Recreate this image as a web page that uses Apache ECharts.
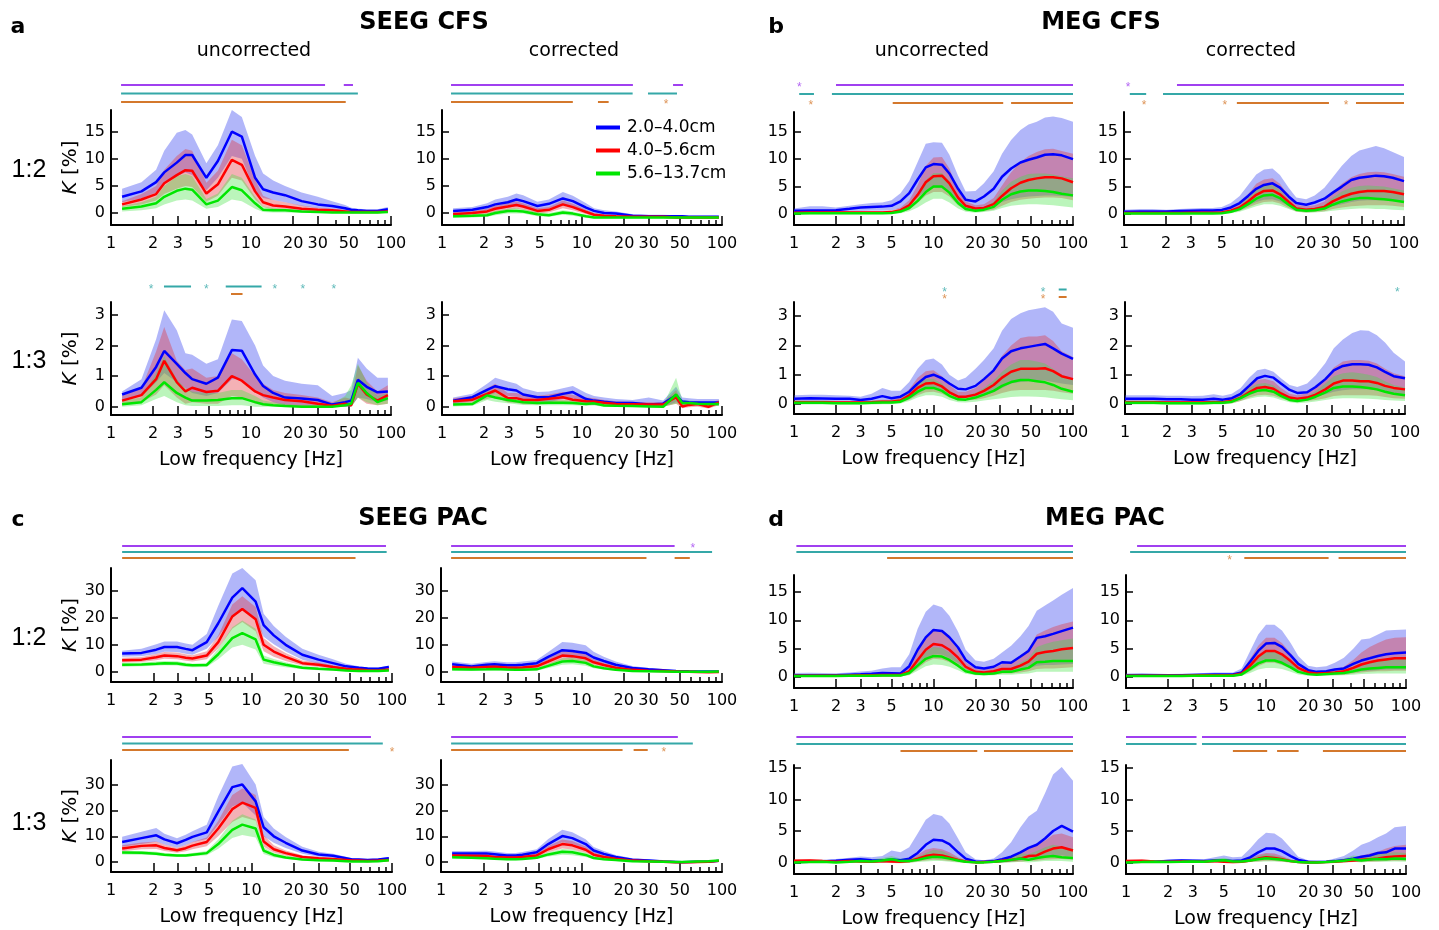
<!DOCTYPE html>
<html lang="en">
<head>
<meta charset="UTF-8" />
<title>SEEG / MEG CFS and PAC</title>
<style>
  html, body { margin: 0; padding: 0; background: #fff; }
  #chart { width: 1439px; height: 930px; }
</style>
</head>
<body>
<div id="chart"></div>
<script src="https://cdn.jsdelivr.net/npm/echarts@6/dist/echarts.min.js"></script>
<script>
// low frequencies (Hz) sampled in each modality
var freqSEEG = [1.2, 1.65, 2.1, 2.4, 2.95, 3.4, 3.8, 4.8, 5.8, 7.3, 8.6, 10.7, 12.2, 14.4, 17.5, 23, 30, 38, 47, 52, 58, 67, 80, 95];
var freqMEG = [1.0, 1.3, 1.6, 2.0, 2.5, 3.0, 3.6, 4.3, 5.0, 5.8, 6.7, 7.7, 8.8, 10, 11.5, 13, 15, 17, 20, 23, 27, 31, 36, 42, 48, 55, 63, 72, 83, 100];

var groupNames = ['2.0\u20134.0cm', '4.0\u20135.6cm', '5.6\u201313.7cm'];
var xLabelFreqs = [1, 2, 3, 5, 10, 20, 30, 50, 100];
var xMajorTicks = [2, 3, 5, 10, 20, 30, 50, 100];
var xMinorTicks = [4, 6, 7, 8, 9, 40, 60, 70, 80, 90];
var yTicks15 = [0, 5, 10, 15];
var yTicks3 = [0, 1, 2, 3];
var yTicks30 = [0, 10, 20, 30];

// ---- a: SEEG CFS 1:2, uncorrected
var a12u_near   = [3.0, 4.0, 5.7, 7.5, 9.3, 10.7, 10.7, 6.5, 9.6, 15.0, 14.1, 6.5, 4.4, 3.8, 3.3, 2.2, 1.6, 1.3, 0.9, 0.6, 0.5, 0.4, 0.4, 0.7];
var a12u_nearHi = [4.5, 5.7, 8.0, 11.5, 14.8, 15.3, 14.5, 9.2, 12.5, 19.0, 17.7, 10.5, 7.3, 6.0, 5.0, 3.8, 3.0, 2.2, 1.5, 1.0, 0.8, 0.7, 0.7, 1.1];
var a12u_nearLo = [2.0, 2.7, 3.8, 5.5, 6.8, 7.5, 7.0, 4.2, 6.5, 10.5, 10.0, 4.0, 2.8, 2.4, 2.0, 1.3, 0.9, 0.7, 0.4, 0.3, 0.2, 0.2, 0.2, 0.4];
var a12u_mid    = [1.6, 2.5, 3.5, 5.5, 7.0, 7.9, 7.8, 3.6, 5.3, 9.8, 8.9, 4.0, 2.0, 1.4, 1.2, 0.8, 0.6, 0.5, 0.3, 0.2, 0.2, 0.2, 0.2, 0.3];
var a12u_midHi  = [2.2, 3.5, 5.0, 8.0, 10.5, 11.8, 11.5, 5.6, 7.8, 13.5, 12.5, 6.2, 3.2, 2.4, 2.0, 1.4, 1.0, 0.8, 0.6, 0.4, 0.3, 0.3, 0.3, 0.5];
var a12u_midLo  = [1.1, 1.6, 2.3, 3.5, 4.5, 5.0, 4.8, 2.1, 3.2, 6.5, 6.0, 2.5, 1.1, 0.7, 0.6, 0.4, 0.3, 0.2, 0.1, 0.1, 0.1, 0.1, 0.1, 0.1];
var a12u_far    = [0.8, 1.2, 1.8, 3.0, 4.1, 4.5, 4.3, 1.6, 2.3, 4.8, 4.2, 1.8, 0.6, 0.5, 0.5, 0.3, 0.2, 0.1, 0.1, 0.1, 0.1, 0.1, 0.1, 0.2];
var a12u_farHi  = [1.3, 2.0, 3.0, 5.0, 6.8, 7.2, 6.8, 2.6, 3.6, 7.2, 6.5, 3.0, 1.2, 0.9, 0.8, 0.5, 0.4, 0.3, 0.2, 0.2, 0.2, 0.2, 0.2, 0.3];
var a12u_farLo  = [0.3, 0.5, 0.9, 1.6, 2.3, 2.5, 2.3, 0.8, 1.1, 2.5, 2.2, 0.8, 0.2, 0.1, 0.1, 0.0, 0.0, 0.0, 0.0, 0.0, 0.0, 0.0, 0.0, 0.0];
var a12u_sig = [[0, 1.18, 33.8], [0, 46, 53.5], [1, 1.18, 58], [2, 1.18, 47.5]];

// ---- a: SEEG CFS 1:2, corrected
var a12c_near   = [0.4, 0.6, 1.1, 1.6, 2.0, 2.5, 2.2, 1.3, 1.7, 2.7, 2.2, 1.0, 0.4, 0.0, -0.1, -0.5, -0.6, -0.6, -0.6, -0.6, -0.7, -0.7, -0.7, -0.7];
var a12c_nearHi = [0.9, 1.1, 1.8, 2.5, 3.0, 3.6, 3.3, 2.1, 2.5, 3.9, 3.2, 1.8, 0.9, 0.5, 0.3, -0.2, -0.3, -0.3, -0.4, -0.4, -0.5, -0.5, -0.5, -0.5];
var a12c_nearLo = [-0.1, 0.1, 0.4, 0.7, 1.0, 1.3, 1.1, 0.5, 0.9, 1.5, 1.2, 0.3, -0.1, -0.4, -0.4, -0.7, -0.8, -0.8, -0.8, -0.8, -0.9, -0.9, -0.9, -0.9];
var a12c_mid    = [-0.2, 0.0, 0.3, 0.8, 1.2, 1.5, 1.2, 0.4, 0.6, 1.6, 1.1, 0.2, -0.3, -0.5, -0.6, -0.7, -0.7, -0.7, -0.8, -0.8, -0.8, -0.8, -0.8, -0.8];
var a12c_midHi  = [0.2, 0.4, 0.8, 1.4, 1.8, 2.2, 1.8, 0.9, 1.1, 2.3, 1.7, 0.6, 0.0, -0.3, -0.4, -0.5, -0.5, -0.5, -0.6, -0.6, -0.6, -0.6, -0.6, -0.6];
var a12c_midLo  = [-0.6, -0.4, -0.2, 0.2, 0.6, 0.8, 0.6, -0.1, 0.1, 0.9, 0.5, -0.2, -0.6, -0.7, -0.8, -0.9, -0.9, -0.9, -1.0, -1.0, -1.0, -1.0, -1.0, -1.0];
var a12c_far    = [-0.6, -0.5, -0.4, 0.0, 0.4, 0.4, 0.3, -0.2, -0.4, 0.1, -0.1, -0.6, -0.8, -0.8, -0.8, -0.8, -0.8, -0.8, -0.8, -0.8, -0.8, -0.8, -0.8, -0.8];
var a12c_farHi  = [-0.3, -0.2, 0.0, 0.4, 0.8, 0.9, 0.7, 0.2, 0.0, 0.5, 0.3, -0.3, -0.6, -0.6, -0.6, -0.6, -0.6, -0.6, -0.6, -0.6, -0.6, -0.6, -0.6, -0.6];
var a12c_farLo  = [-0.9, -0.8, -0.7, -0.4, -0.1, -0.1, -0.1, -0.6, -0.7, -0.3, -0.5, -0.9, -1.0, -1.0, -1.0, -1.0, -1.0, -1.0, -1.0, -1.0, -1.0, -1.0, -1.0, -1.0];
var a12c_sig = [[0, 1.16, 23.1], [0, 44.7, 52.7], [1, 1.16, 23], [1, 29.6, 47.7], [2, 1.16, 8.6], [2, 13, 15.5], [2, 39.8]];

// ---- a: SEEG CFS 1:3, uncorrected
var a13u_near   = [0.4, 0.62, 1.3, 1.82, 1.4, 1.1, 0.9, 0.75, 0.95, 1.85, 1.83, 1.05, 0.68, 0.45, 0.3, 0.27, 0.22, 0.07, 0.15, 0.2, 0.88, 0.65, 0.47, 0.5];
var a13u_nearHi = [0.5, 0.9, 2.2, 3.15, 2.5, 1.75, 1.7, 1.4, 1.55, 2.85, 2.8, 2.0, 1.35, 1.0, 0.85, 0.75, 0.7, 0.35, 0.45, 0.55, 1.6, 1.25, 0.95, 0.95];
var a13u_nearLo = [0.2, 0.35, 0.8, 1.1, 0.8, 0.6, 0.45, 0.35, 0.45, 0.9, 0.9, 0.5, 0.3, 0.15, 0.05, 0.0, 0.0, 0.0, 0.0, 0.0, 0.3, 0.25, 0.15, 0.2];
var a13u_mid    = [0.2, 0.38, 0.9, 1.5, 0.8, 0.5, 0.62, 0.48, 0.52, 1.0, 0.85, 0.5, 0.38, 0.3, 0.22, 0.18, 0.1, 0.03, 0.1, 0.05, 0.75, 0.4, 0.2, 0.38];
var a13u_midHi  = [0.35, 0.6, 1.8, 2.6, 1.5, 1.2, 1.25, 0.95, 1.0, 1.75, 1.55, 1.0, 0.75, 0.55, 0.45, 0.38, 0.3, 0.15, 0.3, 0.25, 1.35, 0.85, 0.5, 0.7];
var a13u_midLo  = [0.05, 0.15, 0.4, 0.7, 0.3, 0.1, 0.15, 0.1, 0.1, 0.35, 0.3, 0.1, 0.05, 0.02, 0.0, 0.0, 0.0, 0.0, 0.0, 0.0, 0.3, 0.1, 0.05, 0.1];
var a13u_far    = [0.08, 0.15, 0.55, 0.8, 0.45, 0.3, 0.2, 0.2, 0.22, 0.28, 0.28, 0.15, 0.08, 0.05, 0.02, 0.0, 0.0, 0.0, 0.05, 0.1, 0.78, 0.45, 0.15, 0.28];
var a13u_farHi  = [0.2, 0.3, 1.1, 1.65, 0.9, 0.6, 0.5, 0.45, 0.45, 0.55, 0.55, 0.35, 0.2, 0.15, 0.1, 0.05, 0.05, 0.1, 0.35, 0.7, 1.4, 0.8, 0.35, 0.45];
var a13u_farLo  = [0.0, 0.05, 0.25, 0.35, 0.15, 0.05, 0.02, 0.02, 0.02, 0.05, 0.05, 0.0, 0.0, 0.0, 0.0, 0.0, 0.0, 0.0, 0.0, 0.0, 0.3, 0.15, 0.05, 0.1];
var a13u_sig = [[1, 1.93], [1, 2.39, 3.73], [1, 4.8], [1, 6.6, 11.9], [1, 14.8], [1, 23.5], [1, 39], [2, 7.2, 8.7]];

// ---- a: SEEG CFS 1:3, corrected
var a13c_near   = [0.2, 0.31, 0.55, 0.67, 0.57, 0.53, 0.4, 0.31, 0.31, 0.42, 0.48, 0.25, 0.2, 0.16, 0.12, 0.12, 0.07, 0.1, 0.37, 0.17, 0.15, 0.14, 0.14, 0.14];
var a13c_nearHi = [0.3, 0.42, 0.75, 0.95, 0.82, 0.75, 0.6, 0.48, 0.5, 0.6, 0.68, 0.45, 0.35, 0.3, 0.25, 0.22, 0.3, 0.2, 0.65, 0.3, 0.28, 0.25, 0.25, 0.25];
var a13c_nearLo = [0.1, 0.18, 0.35, 0.45, 0.35, 0.32, 0.22, 0.15, 0.15, 0.25, 0.28, 0.1, 0.06, 0.04, 0.02, 0.02, 0.0, 0.0, 0.15, 0.05, 0.05, 0.04, 0.04, 0.04];
var a13c_mid    = [0.18, 0.23, 0.42, 0.53, 0.28, 0.28, 0.22, 0.22, 0.26, 0.31, 0.23, 0.18, 0.17, 0.13, 0.09, 0.08, 0.07, 0.07, 0.31, 0.01, 0.06, 0.09, 0.0, 0.14];
var a13c_midHi  = [0.28, 0.35, 0.6, 0.75, 0.45, 0.45, 0.38, 0.36, 0.4, 0.48, 0.38, 0.3, 0.28, 0.22, 0.18, 0.16, 0.15, 0.15, 0.55, 0.12, 0.16, 0.18, 0.1, 0.22];
var a13c_midLo  = [0.08, 0.12, 0.25, 0.32, 0.14, 0.12, 0.08, 0.08, 0.1, 0.15, 0.1, 0.07, 0.06, 0.04, 0.02, 0.01, 0.0, 0.0, 0.1, -0.05, -0.02, 0.0, -0.06, 0.05];
var a13c_far    = [0.07, 0.09, 0.37, 0.3, 0.22, 0.18, 0.15, 0.12, 0.13, 0.13, 0.12, 0.09, 0.11, 0.04, 0.03, 0.02, 0.01, 0.0, 0.4, 0.12, 0.12, 0.1, 0.09, 0.09];
var a13c_farHi  = [0.14, 0.16, 0.5, 0.45, 0.33, 0.28, 0.24, 0.2, 0.21, 0.21, 0.2, 0.16, 0.18, 0.1, 0.08, 0.07, 0.06, 0.06, 0.95, 0.22, 0.2, 0.17, 0.15, 0.15];
var a13c_farLo  = [0.01, 0.03, 0.22, 0.16, 0.11, 0.08, 0.06, 0.05, 0.05, 0.05, 0.05, 0.03, 0.04, 0.0, 0.0, 0.0, 0.0, 0.0, 0.1, 0.04, 0.05, 0.04, 0.03, 0.03];
var a13c_sig = [];

// ---- b: MEG CFS 1:2, uncorrected
var b12u_near   = [0.6, 0.65, 0.65, 0.7, 0.95, 1.2, 1.3, 1.35, 1.5, 2.3, 3.8, 6.3, 8.5, 9.1, 9.0, 7.4, 4.6, 2.6, 2.3, 3.2, 4.6, 6.8, 8.3, 9.4, 9.9, 10.3, 10.8, 10.9, 10.7, 10.0];
var b12u_nearHi = [1.0, 1.4, 1.4, 1.2, 1.5, 1.8, 2.0, 2.1, 2.5, 3.8, 6.0, 9.5, 12.8, 13.1, 13.0, 10.8, 7.0, 4.1, 4.2, 5.6, 7.8, 11.0, 13.5, 15.3, 16.3, 16.8, 17.6, 17.8, 17.5, 16.8];
var b12u_nearLo = [0.3, 0.3, 0.3, 0.35, 0.45, 0.55, 0.6, 0.6, 0.7, 1.0, 1.7, 3.0, 4.3, 4.8, 4.7, 3.7, 2.0, 1.0, 0.9, 1.2, 1.6, 2.2, 2.7, 3.0, 3.2, 3.3, 3.4, 3.4, 3.3, 3.1];
var b12u_mid    = [0.25, 0.3, 0.3, 0.3, 0.3, 0.3, 0.3, 0.3, 0.35, 0.7, 1.6, 3.5, 5.8, 6.9, 7.0, 5.6, 3.0, 1.5, 1.0, 1.1, 1.8, 3.3, 4.7, 5.7, 6.2, 6.5, 6.7, 6.7, 6.5, 5.8];
var b12u_midHi  = [0.5, 0.55, 0.55, 0.55, 0.55, 0.55, 0.55, 0.55, 0.65, 1.2, 2.5, 5.3, 8.8, 10.3, 10.4, 8.3, 4.5, 2.3, 1.6, 1.8, 2.9, 5.2, 7.6, 9.5, 10.6, 11.3, 11.8, 11.9, 11.5, 11.0];
var b12u_midLo  = [0.05, 0.1, 0.1, 0.1, 0.1, 0.1, 0.1, 0.1, 0.12, 0.3, 0.8, 2.0, 3.4, 4.0, 4.0, 3.2, 1.6, 0.7, 0.45, 0.5, 0.8, 1.5, 2.2, 2.6, 2.8, 2.9, 3.0, 3.0, 2.9, 2.5];
var b12u_far    = [0.1, 0.15, 0.15, 0.15, 0.15, 0.15, 0.15, 0.15, 0.2, 0.45, 1.1, 2.4, 4.0, 5.0, 5.0, 3.9, 2.0, 0.9, 0.6, 0.8, 1.3, 2.6, 3.6, 4.1, 4.3, 4.3, 4.2, 4.0, 3.7, 3.4];
var b12u_farHi  = [0.3, 0.35, 0.35, 0.35, 0.35, 0.35, 0.35, 0.35, 0.45, 0.9, 1.9, 3.8, 6.2, 7.5, 7.5, 6.0, 3.2, 1.5, 1.0, 1.3, 2.2, 4.3, 5.9, 6.8, 7.3, 7.4, 7.4, 7.2, 6.9, 6.5];
var b12u_farLo  = [-0.1, -0.05, -0.05, -0.05, -0.05, -0.05, -0.05, -0.05, 0.0, 0.15, 0.5, 1.2, 2.1, 2.8, 2.8, 2.1, 1.0, 0.4, 0.25, 0.35, 0.6, 1.1, 1.5, 1.7, 1.8, 1.8, 1.7, 1.6, 1.4, 1.2];
var b12u_sig = [[0, 1.09], [0, 2.0, 100], [1, 1.09, 1.39], [1, 1.87, 100], [2, 1.32], [2, 5.1, 31.6], [2, 36, 100]];

// ---- b: MEG CFS 1:2, corrected
var b12c_near   = [0.4, 0.45, 0.45, 0.45, 0.55, 0.6, 0.65, 0.65, 0.75, 1.2, 2.0, 3.3, 4.6, 5.3, 5.6, 4.8, 3.2, 2.0, 1.7, 2.1, 2.8, 3.9, 5.0, 6.2, 6.6, 6.8, 7.0, 6.9, 6.6, 6.0];
var b12c_nearHi = [0.8, 0.9, 0.9, 0.8, 0.9, 1.0, 1.1, 1.1, 1.3, 2.0, 3.3, 5.3, 7.2, 8.1, 8.3, 7.1, 4.8, 3.0, 2.7, 3.4, 4.8, 6.7, 8.8, 10.6, 11.6, 12.0, 12.4, 12.0, 11.3, 10.4];
var b12c_nearLo = [0.15, 0.15, 0.15, 0.15, 0.2, 0.25, 0.25, 0.25, 0.3, 0.5, 0.9, 1.5, 2.2, 2.6, 2.7, 2.3, 1.5, 0.9, 0.7, 0.8, 1.0, 1.4, 1.8, 2.2, 2.4, 2.5, 2.5, 2.5, 2.4, 2.2];
var b12c_mid    = [0.2, 0.2, 0.2, 0.2, 0.2, 0.25, 0.25, 0.25, 0.3, 0.6, 1.2, 2.3, 3.5, 4.2, 4.3, 3.6, 2.2, 1.0, 0.8, 0.9, 1.3, 2.3, 3.1, 3.7, 4.0, 4.2, 4.2, 4.2, 4.0, 3.6];
var b12c_midHi  = [0.4, 0.4, 0.4, 0.4, 0.4, 0.45, 0.45, 0.45, 0.55, 1.0, 2.0, 3.6, 5.5, 6.3, 6.5, 5.5, 3.4, 1.7, 1.4, 1.6, 2.3, 4.0, 5.5, 6.7, 7.3, 7.6, 7.7, 7.6, 7.3, 6.8];
var b12c_midLo  = [0.0, 0.0, 0.0, 0.0, 0.0, 0.05, 0.05, 0.05, 0.1, 0.25, 0.6, 1.2, 1.8, 2.2, 2.3, 1.9, 1.1, 0.45, 0.3, 0.35, 0.5, 0.9, 1.2, 1.4, 1.5, 1.6, 1.6, 1.6, 1.5, 1.3];
var b12c_far    = [0.1, 0.1, 0.1, 0.1, 0.1, 0.1, 0.1, 0.1, 0.15, 0.4, 0.9, 1.8, 2.8, 3.4, 3.5, 2.9, 1.7, 0.8, 0.6, 0.7, 1.0, 1.7, 2.3, 2.7, 2.9, 2.9, 2.8, 2.7, 2.5, 2.2];
var b12c_farHi  = [0.25, 0.25, 0.25, 0.25, 0.25, 0.25, 0.25, 0.25, 0.35, 0.7, 1.5, 2.9, 4.4, 5.2, 5.3, 4.4, 2.6, 1.3, 1.0, 1.2, 1.7, 3.0, 4.1, 4.8, 5.1, 5.2, 5.1, 5.0, 4.7, 4.3];
var b12c_farLo  = [-0.05, -0.05, -0.05, -0.05, -0.05, -0.05, -0.05, -0.05, 0.0, 0.15, 0.4, 0.9, 1.4, 1.8, 1.8, 1.5, 0.9, 0.4, 0.25, 0.3, 0.4, 0.6, 0.8, 0.9, 1.0, 1.0, 0.9, 0.9, 0.8, 0.7];
var b12c_sig = [[0, 1.07], [0, 2.39, 100], [1, 1.1, 1.44], [1, 1.9, 100], [2, 1.39], [2, 5.26], [2, 6.4, 29.1], [2, 38.5], [2, 45.4, 100]];

// ---- b: MEG CFS 1:3, uncorrected
var b13u_near   = [0.18, 0.2, 0.19, 0.18, 0.18, 0.14, 0.18, 0.27, 0.2, 0.25, 0.42, 0.7, 0.92, 1.0, 0.88, 0.7, 0.52, 0.5, 0.62, 0.85, 1.15, 1.55, 1.8, 1.9, 1.95, 2.0, 2.05, 1.9, 1.72, 1.54];
var b13u_nearHi = [0.3, 0.32, 0.32, 0.3, 0.28, 0.25, 0.35, 0.55, 0.45, 0.45, 0.75, 1.2, 1.5, 1.55, 1.35, 1.0, 0.8, 0.9, 1.2, 1.5, 1.9, 2.5, 2.9, 3.1, 3.2, 3.25, 3.3, 3.15, 2.75, 2.6];
var b13u_nearLo = [0.08, 0.08, 0.08, 0.08, 0.08, 0.06, 0.06, 0.06, 0.06, 0.08, 0.18, 0.35, 0.5, 0.55, 0.45, 0.35, 0.25, 0.22, 0.25, 0.3, 0.4, 0.55, 0.7, 0.75, 0.78, 0.8, 0.8, 0.75, 0.7, 0.65];
var b13u_mid    = [0.06, 0.06, 0.06, 0.05, 0.05, 0.05, 0.06, 0.08, 0.08, 0.12, 0.3, 0.55, 0.7, 0.72, 0.6, 0.4, 0.25, 0.25, 0.32, 0.45, 0.65, 0.9, 1.1, 1.2, 1.2, 1.2, 1.22, 1.12, 0.95, 0.85];
var b13u_midHi  = [0.12, 0.12, 0.12, 0.1, 0.1, 0.1, 0.12, 0.15, 0.15, 0.22, 0.5, 0.9, 1.12, 1.15, 0.95, 0.65, 0.42, 0.42, 0.55, 0.8, 1.15, 1.65, 2.0, 2.25, 2.3, 2.3, 2.35, 2.15, 1.8, 1.6];
var b13u_midLo  = [0.0, 0.0, 0.0, 0.0, 0.0, 0.0, 0.0, 0.02, 0.02, 0.05, 0.15, 0.3, 0.4, 0.42, 0.35, 0.22, 0.12, 0.12, 0.15, 0.2, 0.28, 0.38, 0.45, 0.48, 0.48, 0.48, 0.48, 0.45, 0.4, 0.35];
var b13u_far    = [0.04, 0.04, 0.04, 0.03, 0.03, 0.03, 0.04, 0.05, 0.05, 0.08, 0.22, 0.42, 0.55, 0.55, 0.45, 0.28, 0.16, 0.15, 0.22, 0.32, 0.45, 0.62, 0.75, 0.82, 0.82, 0.78, 0.74, 0.65, 0.52, 0.42];
var b13u_farHi  = [0.1, 0.1, 0.1, 0.08, 0.08, 0.08, 0.1, 0.12, 0.12, 0.18, 0.38, 0.68, 0.85, 0.85, 0.7, 0.45, 0.28, 0.27, 0.38, 0.55, 0.8, 1.1, 1.35, 1.5, 1.5, 1.45, 1.38, 1.2, 1.0, 0.85];
var b13u_farLo  = [-0.02, -0.02, -0.02, -0.02, -0.02, -0.02, -0.02, -0.01, -0.01, 0.02, 0.1, 0.22, 0.3, 0.3, 0.25, 0.14, 0.06, 0.05, 0.08, 0.12, 0.16, 0.2, 0.24, 0.26, 0.26, 0.25, 0.23, 0.2, 0.16, 0.13];
var b13u_sig = [[1, 12], [2, 12], [1, 61], [2, 61], [1, 79, 90], [2, 79, 90]];

// ---- b: MEG CFS 1:3, corrected
var b13c_near   = [0.18, 0.18, 0.18, 0.16, 0.16, 0.15, 0.15, 0.18, 0.15, 0.2, 0.35, 0.62, 0.88, 0.96, 0.9, 0.7, 0.48, 0.38, 0.4, 0.58, 0.85, 1.15, 1.3, 1.36, 1.36, 1.34, 1.25, 1.1, 0.95, 0.88];
var b13c_nearHi = [0.3, 0.3, 0.3, 0.28, 0.28, 0.27, 0.28, 0.33, 0.28, 0.35, 0.55, 0.9, 1.15, 1.2, 1.1, 0.88, 0.65, 0.58, 0.7, 0.98, 1.4, 1.9, 2.2, 2.42, 2.52, 2.5, 2.35, 2.1, 1.75, 1.45];
var b13c_nearLo = [0.07, 0.07, 0.07, 0.06, 0.06, 0.05, 0.05, 0.06, 0.05, 0.08, 0.17, 0.33, 0.48, 0.52, 0.48, 0.36, 0.24, 0.18, 0.18, 0.24, 0.33, 0.42, 0.47, 0.5, 0.5, 0.5, 0.46, 0.4, 0.36, 0.33];
var b13c_mid    = [0.06, 0.06, 0.06, 0.05, 0.05, 0.05, 0.05, 0.06, 0.06, 0.1, 0.22, 0.4, 0.55, 0.58, 0.52, 0.36, 0.22, 0.18, 0.22, 0.32, 0.5, 0.7, 0.8, 0.8, 0.78, 0.78, 0.72, 0.62, 0.55, 0.5];
var b13c_midHi  = [0.12, 0.12, 0.12, 0.1, 0.1, 0.1, 0.1, 0.12, 0.12, 0.18, 0.36, 0.62, 0.82, 0.85, 0.78, 0.55, 0.35, 0.3, 0.37, 0.55, 0.88, 1.25, 1.45, 1.5, 1.5, 1.48, 1.38, 1.2, 1.05, 0.95];
var b13c_midLo  = [0.0, 0.0, 0.0, 0.0, 0.0, 0.0, 0.0, 0.0, 0.0, 0.03, 0.1, 0.22, 0.3, 0.32, 0.28, 0.2, 0.1, 0.08, 0.1, 0.14, 0.2, 0.27, 0.3, 0.3, 0.3, 0.3, 0.28, 0.24, 0.2, 0.18];
var b13c_far    = [0.04, 0.04, 0.04, 0.03, 0.03, 0.03, 0.03, 0.04, 0.04, 0.08, 0.2, 0.35, 0.45, 0.48, 0.42, 0.28, 0.14, 0.1, 0.15, 0.25, 0.4, 0.55, 0.6, 0.6, 0.58, 0.55, 0.5, 0.42, 0.35, 0.3];
var b13c_farHi  = [0.1, 0.1, 0.1, 0.08, 0.08, 0.08, 0.08, 0.1, 0.1, 0.15, 0.32, 0.55, 0.68, 0.72, 0.64, 0.44, 0.24, 0.19, 0.27, 0.44, 0.7, 0.95, 1.05, 1.08, 1.05, 1.0, 0.92, 0.78, 0.65, 0.56];
var b13c_farLo  = [-0.02, -0.02, -0.02, -0.02, -0.02, -0.02, -0.02, -0.02, -0.02, 0.02, 0.1, 0.18, 0.24, 0.26, 0.22, 0.14, 0.06, 0.03, 0.05, 0.09, 0.14, 0.18, 0.2, 0.2, 0.19, 0.18, 0.16, 0.14, 0.12, 0.1];
var b13c_sig = [[1, 88]];

// ---- c: SEEG PAC 1:2, uncorrected
var c12u_near   = [6.8, 7.0, 8.2, 9.2, 9.2, 8.5, 8.0, 11.0, 18.0, 27.5, 31.0, 26.0, 17.3, 13.5, 10.0, 6.3, 4.5, 3.2, 2.0, 1.8, 1.5, 1.2, 1.1, 1.8];
var c12u_nearHi = [7.8, 8.5, 10.2, 11.2, 11.2, 10.5, 10.0, 14.0, 24.5, 36.5, 38.5, 34.0, 21.5, 17.0, 13.0, 8.5, 6.3, 4.6, 3.0, 2.5, 2.0, 1.6, 1.5, 2.3];
var c12u_nearLo = [5.6, 5.8, 6.6, 7.4, 7.3, 6.7, 6.3, 8.5, 13.0, 20.0, 23.5, 19.5, 13.0, 10.2, 7.5, 4.5, 3.0, 2.0, 1.2, 1.0, 0.9, 0.7, 0.7, 1.2];
var c12u_mid    = [4.3, 4.5, 5.4, 6.0, 5.8, 5.2, 4.9, 6.0, 11.0, 20.5, 23.3, 19.5, 10.0, 7.5, 5.5, 3.2, 2.6, 1.8, 1.1, 0.9, 0.8, 0.6, 0.5, 0.8];
var c12u_midHi  = [5.2, 5.5, 6.6, 7.3, 7.1, 6.5, 6.1, 7.6, 13.5, 25.0, 28.0, 24.0, 12.5, 9.5, 7.0, 4.2, 3.4, 2.4, 1.5, 1.3, 1.1, 0.9, 0.8, 1.1];
var c12u_midLo  = [3.4, 3.6, 4.3, 4.8, 4.6, 4.1, 3.8, 4.6, 8.6, 16.0, 18.5, 15.0, 7.6, 5.6, 4.0, 2.3, 1.8, 1.2, 0.7, 0.6, 0.5, 0.4, 0.3, 0.5];
var c12u_far    = [2.6, 2.7, 3.0, 3.2, 3.1, 2.6, 2.4, 2.5, 6.5, 12.5, 14.3, 12.0, 4.5, 3.5, 2.6, 1.5, 1.1, 0.8, 0.5, 0.4, 0.3, 0.3, 0.3, 0.5];
var c12u_farHi  = [3.3, 3.4, 3.8, 4.0, 3.9, 3.3, 3.0, 3.3, 8.5, 16.5, 19.0, 16.0, 6.0, 4.7, 3.5, 2.1, 1.6, 1.2, 0.8, 0.6, 0.5, 0.5, 0.5, 0.7];
var c12u_farLo  = [1.9, 2.0, 2.2, 2.4, 2.3, 1.9, 1.7, 1.8, 4.6, 9.0, 10.0, 8.3, 3.0, 2.3, 1.7, 0.9, 0.6, 0.4, 0.2, 0.2, 0.1, 0.1, 0.1, 0.3];
var c12u_sig = [[0, 1.2, 90.6], [1, 1.2, 91.6], [2, 1.2, 55]];

// ---- c: SEEG PAC 1:2, corrected
var c12c_near   = [2.8, 2.0, 2.6, 2.8, 2.4, 2.4, 2.6, 3.2, 5.5, 8.0, 7.7, 7.0, 5.3, 4.0, 2.6, 1.4, 0.9, 0.6, 0.3, 0.2, 0.15, 0.1, 0.05, 0.1];
var c12c_nearHi = [3.8, 3.0, 3.6, 3.9, 3.5, 3.5, 3.8, 4.4, 7.3, 11.0, 10.8, 9.8, 7.4, 5.6, 3.8, 2.1, 1.4, 1.0, 0.6, 0.5, 0.4, 0.3, 0.3, 0.3];
var c12c_nearLo = [1.9, 1.2, 1.7, 1.9, 1.5, 1.5, 1.6, 2.1, 3.9, 5.5, 5.2, 4.6, 3.5, 2.6, 1.6, 0.8, 0.5, 0.3, 0.1, 0.0, -0.1, -0.1, -0.2, -0.1];
var c12c_mid    = [1.8, 1.5, 1.8, 1.9, 1.6, 1.5, 1.6, 2.0, 3.8, 6.0, 5.8, 5.0, 3.5, 2.5, 1.5, 0.7, 0.4, 0.3, 0.1, 0.0, 0.0, -0.1, -0.2, -0.1];
var c12c_midHi  = [2.4, 2.1, 2.4, 2.6, 2.3, 2.1, 2.2, 2.7, 5.0, 7.6, 7.4, 6.5, 4.6, 3.3, 2.1, 1.1, 0.7, 0.5, 0.3, 0.2, 0.1, 0.1, 0.0, 0.1];
var c12c_midLo  = [1.2, 0.9, 1.2, 1.3, 1.0, 0.9, 1.0, 1.3, 2.6, 4.4, 4.2, 3.5, 2.4, 1.7, 0.9, 0.3, 0.1, 0.1, -0.1, -0.2, -0.2, -0.3, -0.4, -0.3];
var c12c_far    = [0.9, 0.8, 0.9, 1.0, 0.8, 0.7, 0.7, 0.9, 2.2, 3.8, 4.0, 3.3, 2.0, 1.3, 0.7, 0.3, 0.2, 0.1, 0.0, 0.0, 0.0, 0.0, 0.0, 0.1];
var c12c_farHi  = [1.4, 1.3, 1.4, 1.5, 1.3, 1.2, 1.2, 1.4, 3.0, 5.0, 5.2, 4.4, 2.7, 1.8, 1.0, 0.5, 0.4, 0.3, 0.2, 0.2, 0.2, 0.2, 0.2, 0.3];
var c12c_farLo  = [0.4, 0.3, 0.4, 0.5, 0.4, 0.3, 0.3, 0.4, 1.4, 2.6, 2.8, 2.2, 1.3, 0.8, 0.4, 0.1, 0.0, -0.1, -0.2, -0.2, -0.2, -0.2, -0.2, -0.1];
var c12c_sig = [[0, 1.18, 46], [0, 62], [1, 1.18, 85], [2, 1.18, 29], [2, 46, 59]];

// ---- c: SEEG PAC 1:3, uncorrected
var c13u_near   = [7.8, 9.3, 10.4, 8.8, 7.3, 8.6, 9.8, 11.5, 19.5, 29.0, 30.0, 23.5, 13.5, 10.0, 7.5, 4.5, 3.0, 2.5, 1.5, 1.0, 1.0, 0.8, 1.0, 1.5];
var c13u_nearHi = [9.8, 11.8, 13.2, 11.0, 9.2, 10.6, 12.0, 14.5, 25.5, 37.0, 38.0, 30.0, 17.5, 13.0, 9.7, 6.0, 4.0, 3.3, 2.1, 1.5, 1.4, 1.2, 1.4, 2.0];
var c13u_nearLo = [6.0, 7.0, 7.9, 6.8, 5.6, 6.6, 7.7, 9.0, 14.5, 21.5, 23.0, 18.0, 10.0, 7.5, 5.5, 3.3, 2.1, 1.7, 1.0, 0.6, 0.6, 0.5, 0.6, 1.0];
var c13u_mid    = [5.3, 6.3, 6.5, 5.5, 4.6, 5.4, 6.4, 7.8, 13.0, 20.5, 23.0, 21.0, 8.0, 5.0, 3.5, 2.0, 1.5, 1.2, 0.8, 0.6, 0.6, 0.5, 0.6, 0.8];
var c13u_midHi  = [6.5, 7.6, 8.0, 6.8, 5.6, 6.6, 7.8, 9.5, 16.0, 26.0, 28.5, 26.0, 10.5, 6.5, 4.5, 2.7, 2.0, 1.6, 1.1, 0.9, 0.9, 0.7, 0.9, 1.1];
var c13u_midLo  = [4.2, 5.0, 5.1, 4.3, 3.6, 4.2, 5.0, 6.2, 10.0, 15.5, 17.5, 16.0, 6.0, 3.7, 2.5, 1.4, 1.0, 0.8, 0.5, 0.4, 0.4, 0.3, 0.4, 0.5];
var c13u_far    = [3.7, 3.6, 3.3, 2.9, 2.6, 2.6, 2.9, 3.5, 7.0, 12.5, 14.5, 13.0, 4.5, 2.8, 1.8, 1.0, 0.7, 0.6, 0.4, 0.3, 0.3, 0.3, 0.4, 0.7];
var c13u_farHi  = [4.4, 4.3, 4.0, 3.5, 3.2, 3.2, 3.5, 4.3, 8.8, 16.0, 18.5, 16.5, 5.8, 3.6, 2.4, 1.4, 1.0, 0.9, 0.6, 0.5, 0.5, 0.5, 0.6, 0.9];
var c13u_farLo  = [3.0, 2.9, 2.7, 2.3, 2.0, 2.0, 2.3, 2.7, 5.2, 9.3, 10.5, 9.5, 3.2, 1.9, 1.2, 0.6, 0.4, 0.3, 0.2, 0.1, 0.1, 0.1, 0.2, 0.4];
var c13u_sig = [[0, 1.2, 70.8], [1, 1.2, 86], [2, 1.2, 49.3], [2, 100]];

// ---- c: SEEG PAC 1:3, corrected
var c13c_near   = [3.4, 3.4, 3.4, 3.1, 2.6, 2.6, 2.9, 3.8, 7.0, 10.1, 9.3, 7.0, 4.5, 3.2, 2.0, 0.9, 0.6, 0.3, 0.1, 0.0, 0.1, 0.2, 0.2, 0.5];
var c13c_nearHi = [4.3, 4.3, 4.4, 4.1, 3.5, 3.5, 3.9, 5.0, 9.0, 12.5, 11.6, 8.9, 5.9, 4.3, 2.8, 1.5, 1.1, 0.8, 0.5, 0.4, 0.5, 0.6, 0.6, 1.0];
var c13c_nearLo = [2.5, 2.5, 2.5, 2.2, 1.8, 1.8, 2.0, 2.7, 5.1, 7.7, 7.0, 5.2, 3.2, 2.2, 1.3, 0.4, 0.2, -0.1, -0.2, -0.3, -0.2, -0.1, -0.1, 0.1];
var c13c_mid    = [2.6, 2.5, 2.4, 2.0, 1.8, 1.8, 2.0, 2.6, 5.0, 7.0, 6.5, 4.8, 2.9, 2.0, 1.3, 0.6, 0.4, 0.2, 0.0, 0.0, 0.0, 0.1, 0.2, 0.5];
var c13c_midHi  = [3.2, 3.1, 3.0, 2.6, 2.4, 2.4, 2.6, 3.4, 6.3, 8.8, 8.2, 6.1, 3.8, 2.7, 1.8, 0.9, 0.6, 0.4, 0.2, 0.2, 0.2, 0.3, 0.4, 0.7];
var c13c_midLo  = [2.0, 1.9, 1.8, 1.5, 1.3, 1.3, 1.4, 1.9, 3.8, 5.3, 4.9, 3.6, 2.1, 1.4, 0.9, 0.3, 0.2, 0.0, -0.2, -0.2, -0.2, -0.1, 0.0, 0.3];
var c13c_far    = [1.9, 1.7, 1.5, 1.3, 1.1, 1.1, 1.2, 1.7, 3.0, 4.0, 3.8, 2.8, 1.6, 1.1, 0.8, 0.4, 0.3, 0.2, 0.1, 0.1, 0.2, 0.3, 0.4, 0.6];
var c13c_farHi  = [2.4, 2.2, 2.0, 1.7, 1.5, 1.5, 1.6, 2.2, 3.8, 5.1, 4.9, 3.6, 2.1, 1.5, 1.1, 0.6, 0.5, 0.4, 0.3, 0.3, 0.4, 0.5, 0.6, 0.8];
var c13c_farLo  = [1.4, 1.2, 1.0, 0.9, 0.7, 0.7, 0.8, 1.2, 2.2, 2.9, 2.7, 2.0, 1.1, 0.7, 0.5, 0.2, 0.1, 0.0, -0.1, -0.1, 0.0, 0.1, 0.2, 0.4];
var c13c_sig = [[0, 1.18, 48.5], [1, 1.18, 62], [2, 1.18, 19.6], [2, 23.5, 29.6], [2, 38.5]];

// ---- d: MEG PAC 1:2, uncorrected
var d12u_near   = [0.3, 0.3, 0.3, 0.3, 0.4, 0.47, 0.55, 0.7, 0.65, 0.6, 1.9, 4.8, 7.0, 8.3, 8.1, 7.0, 5.2, 3.0, 1.7, 1.5, 1.8, 2.6, 2.5, 3.6, 4.6, 6.9, 7.2, 7.6, 8.1, 8.7];
var d12u_nearHi = [0.7, 0.75, 0.7, 0.65, 0.8, 0.95, 1.1, 1.5, 1.7, 1.7, 4.0, 8.5, 11.5, 12.8, 12.3, 10.8, 8.0, 4.8, 2.9, 2.7, 3.2, 4.3, 5.5, 7.2, 9.0, 11.7, 12.6, 13.5, 14.5, 15.7];
var d12u_nearLo = [0.05, 0.05, 0.05, 0.05, 0.1, 0.15, 0.15, 0.2, 0.2, 0.2, 0.6, 2.0, 3.3, 4.0, 3.9, 3.3, 2.4, 1.3, 0.7, 0.6, 0.7, 1.0, 1.0, 1.3, 1.5, 2.0, 2.1, 2.1, 2.2, 2.3];
var d12u_mid    = [0.2, 0.2, 0.2, 0.2, 0.25, 0.3, 0.3, 0.35, 0.35, 0.35, 1.0, 3.0, 4.8, 5.8, 5.6, 4.8, 3.4, 1.8, 0.9, 0.8, 1.0, 1.4, 1.4, 2.0, 2.7, 4.1, 4.4, 4.6, 4.9, 5.1];
var d12u_midHi  = [0.4, 0.4, 0.4, 0.4, 0.5, 0.55, 0.55, 0.65, 0.65, 0.65, 1.7, 4.6, 7.0, 8.3, 8.0, 6.8, 4.8, 2.6, 1.4, 1.3, 1.6, 2.3, 2.6, 3.8, 5.0, 7.5, 8.2, 8.8, 9.3, 9.8];
var d12u_midLo  = [0.0, 0.0, 0.0, 0.0, 0.05, 0.08, 0.08, 0.1, 0.1, 0.1, 0.4, 1.5, 2.6, 3.2, 3.1, 2.6, 1.8, 0.9, 0.4, 0.35, 0.45, 0.6, 0.6, 0.8, 1.0, 1.4, 1.5, 1.5, 1.6, 1.7];
var d12u_far    = [0.15, 0.15, 0.15, 0.15, 0.2, 0.2, 0.2, 0.25, 0.25, 0.25, 0.7, 2.0, 3.2, 3.7, 3.6, 3.0, 2.0, 1.0, 0.6, 0.5, 0.6, 0.9, 0.9, 1.3, 1.6, 2.6, 2.7, 2.8, 2.8, 2.8];
var d12u_farHi  = [0.3, 0.3, 0.3, 0.3, 0.35, 0.38, 0.38, 0.45, 0.45, 0.45, 1.2, 3.0, 4.6, 5.3, 5.1, 4.3, 2.9, 1.5, 0.9, 0.8, 1.0, 1.5, 1.6, 2.5, 3.3, 5.3, 5.8, 6.2, 6.5, 6.8];
var d12u_farLo  = [0.0, 0.0, 0.0, 0.0, 0.05, 0.05, 0.05, 0.08, 0.08, 0.08, 0.3, 1.1, 1.9, 2.2, 2.1, 1.8, 1.2, 0.55, 0.3, 0.25, 0.3, 0.4, 0.4, 0.5, 0.6, 0.9, 0.9, 0.9, 0.9, 0.9];
var d12u_sig = [[0, 1.04, 100], [1, 1.04, 100], [2, 4.65, 100]];

// ---- d: MEG PAC 1:2, corrected
var d12c_near   = [0.3, 0.3, 0.3, 0.3, 0.3, 0.35, 0.4, 0.45, 0.45, 0.45, 0.8, 2.7, 4.6, 5.9, 6.0, 5.3, 3.8, 2.3, 1.2, 0.9, 1.0, 1.3, 1.5, 2.3, 2.9, 3.3, 3.7, 4.0, 4.2, 4.3];
var d12c_nearHi = [0.6, 0.7, 0.6, 0.5, 0.55, 0.6, 0.7, 0.8, 0.8, 0.8, 1.5, 4.6, 7.5, 9.2, 9.2, 8.2, 6.0, 3.7, 2.0, 1.7, 1.9, 2.5, 3.4, 5.0, 6.6, 6.8, 7.5, 8.2, 8.3, 8.4];
var d12c_nearLo = [0.05, 0.05, 0.05, 0.05, 0.05, 0.1, 0.1, 0.12, 0.12, 0.12, 0.3, 1.2, 2.2, 2.9, 2.9, 2.5, 1.8, 1.0, 0.5, 0.35, 0.4, 0.5, 0.55, 0.8, 1.0, 1.1, 1.2, 1.3, 1.3, 1.3];
var d12c_mid    = [0.2, 0.2, 0.2, 0.2, 0.2, 0.25, 0.3, 0.3, 0.3, 0.3, 0.6, 2.0, 3.6, 4.6, 4.6, 4.0, 2.8, 1.6, 0.8, 0.6, 0.7, 0.8, 1.0, 1.6, 2.2, 2.6, 2.9, 3.1, 3.3, 3.3];
var d12c_midHi  = [0.4, 0.4, 0.4, 0.4, 0.4, 0.45, 0.5, 0.5, 0.5, 0.5, 1.0, 3.2, 5.5, 6.9, 6.9, 6.0, 4.2, 2.4, 1.3, 1.0, 1.1, 1.3, 1.8, 3.0, 4.3, 5.3, 6.0, 6.6, 6.9, 7.0];
var d12c_midLo  = [0.0, 0.0, 0.0, 0.0, 0.0, 0.05, 0.08, 0.08, 0.08, 0.08, 0.25, 1.0, 1.9, 2.5, 2.5, 2.1, 1.5, 0.8, 0.35, 0.25, 0.3, 0.35, 0.4, 0.6, 0.8, 0.9, 1.0, 1.0, 1.1, 1.1];
var d12c_far    = [0.15, 0.15, 0.15, 0.15, 0.15, 0.2, 0.2, 0.2, 0.2, 0.2, 0.45, 1.4, 2.4, 2.9, 2.9, 2.5, 1.7, 0.9, 0.5, 0.4, 0.5, 0.6, 0.7, 1.0, 1.3, 1.5, 1.6, 1.7, 1.7, 1.7];
var d12c_farHi  = [0.3, 0.3, 0.3, 0.3, 0.3, 0.35, 0.35, 0.35, 0.35, 0.35, 0.8, 2.2, 3.6, 4.4, 4.4, 3.8, 2.6, 1.4, 0.8, 0.65, 0.8, 1.0, 1.2, 1.8, 2.4, 2.8, 3.0, 3.2, 3.3, 3.3];
var d12c_farLo  = [0.0, 0.0, 0.0, 0.0, 0.0, 0.05, 0.05, 0.05, 0.05, 0.05, 0.2, 0.7, 1.3, 1.6, 1.6, 1.4, 0.9, 0.45, 0.2, 0.15, 0.2, 0.25, 0.3, 0.4, 0.5, 0.55, 0.6, 0.6, 0.6, 0.6];
var d12c_sig = [[0, 1.2, 100], [1, 1.07, 100], [2, 5.5], [2, 7, 28], [2, 33, 100]];

// ---- d: MEG PAC 1:3, uncorrected
var d13u_near   = [0.05, 0.1, 0.15, 0.25, 0.4, 0.5, 0.35, 0.3, 0.45, 0.35, 0.6, 1.5, 2.8, 3.6, 3.5, 2.9, 1.6, 0.6, 0.15, 0.1, 0.2, 0.5, 0.9, 1.6, 2.3, 2.8, 3.8, 5.0, 5.8, 4.9];
var d13u_nearHi = [0.3, 0.35, 0.4, 0.55, 0.75, 0.95, 0.8, 1.0, 1.9, 1.6, 2.4, 4.6, 6.8, 7.7, 7.4, 6.2, 3.8, 1.6, 0.5, 0.35, 0.6, 1.6, 3.2, 5.6, 7.3, 8.2, 11.0, 14.0, 15.2, 13.0];
var d13u_nearLo = [-0.1, -0.1, -0.05, 0.0, 0.05, 0.1, 0.05, 0.0, 0.05, 0.0, 0.1, 0.4, 0.8, 1.1, 1.1, 0.9, 0.4, 0.1, -0.1, -0.15, -0.1, 0.0, 0.1, 0.3, 0.5, 0.6, 0.8, 1.0, 1.1, 0.9];
var d13u_mid    = [0.25, 0.3, 0.2, 0.1, 0.2, 0.15, 0.1, 0.2, 0.15, 0.1, 0.2, 0.6, 1.0, 1.2, 1.1, 0.8, 0.4, 0.15, 0.0, 0.05, 0.1, 0.25, 0.4, 0.6, 1.0, 1.1, 1.7, 2.2, 2.4, 1.9];
var d13u_midHi  = [0.45, 0.5, 0.4, 0.3, 0.4, 0.35, 0.3, 0.45, 0.4, 0.35, 0.5, 1.2, 2.0, 2.3, 2.1, 1.6, 0.8, 0.35, 0.15, 0.2, 0.3, 0.6, 1.0, 1.6, 2.4, 2.8, 3.5, 4.4, 4.6, 4.0];
var d13u_midLo  = [0.05, 0.1, 0.0, -0.1, 0.0, -0.05, -0.1, -0.05, -0.1, -0.15, -0.05, 0.15, 0.3, 0.4, 0.35, 0.2, 0.05, -0.05, -0.15, -0.1, -0.1, 0.0, 0.05, 0.1, 0.2, 0.25, 0.4, 0.5, 0.55, 0.4];
var d13u_far    = [0.0, 0.05, 0.1, 0.0, 0.1, 0.2, 0.15, 0.3, 0.5, 0.2, 0.2, 0.4, 0.7, 0.9, 0.8, 0.6, 0.3, 0.1, 0.0, 0.0, 0.1, 0.2, 0.4, 0.6, 0.4, 0.7, 0.9, 1.0, 0.8, 0.7];
var d13u_farHi  = [0.15, 0.2, 0.3, 0.2, 0.35, 0.45, 0.45, 0.7, 1.0, 0.6, 0.55, 0.9, 1.5, 2.0, 1.8, 1.3, 0.65, 0.3, 0.15, 0.15, 0.3, 0.55, 1.0, 1.5, 1.3, 1.8, 2.4, 2.8, 2.5, 2.2];
var d13u_farLo  = [-0.15, -0.1, -0.05, -0.15, -0.1, 0.0, -0.1, 0.0, 0.1, -0.05, -0.05, 0.05, 0.15, 0.2, 0.2, 0.1, 0.0, -0.1, -0.15, -0.15, -0.1, -0.05, 0.0, 0.1, 0.0, 0.1, 0.2, 0.2, 0.2, 0.1];
var d13u_sig = [[0, 1.04, 100], [1, 1.04, 100], [2, 5.8, 20.6], [2, 23, 100]];

// ---- d: MEG PAC 1:3, corrected
var d13c_near   = [0.05, 0.1, 0.1, 0.2, 0.3, 0.25, 0.2, 0.3, 0.3, 0.2, 0.3, 0.8, 1.6, 2.2, 2.2, 1.8, 1.0, 0.4, 0.1, 0.05, 0.1, 0.2, 0.35, 0.6, 0.9, 1.1, 1.5, 1.6, 2.2, 2.2];
var d13c_nearHi = [0.25, 0.3, 0.3, 0.45, 0.55, 0.5, 0.5, 0.8, 1.1, 0.8, 0.9, 2.2, 3.7, 4.7, 4.6, 3.8, 2.3, 0.9, 0.35, 0.25, 0.3, 0.6, 1.0, 1.9, 2.8, 3.3, 4.0, 4.6, 5.6, 5.8];
var d13c_nearLo = [-0.1, -0.05, -0.05, 0.0, 0.05, 0.05, 0.0, 0.05, 0.05, 0.0, 0.05, 0.25, 0.5, 0.7, 0.7, 0.55, 0.3, 0.1, -0.05, -0.1, -0.05, 0.0, 0.05, 0.1, 0.2, 0.25, 0.35, 0.4, 0.5, 0.5];
var d13c_mid    = [0.2, 0.25, 0.15, 0.1, 0.15, 0.1, 0.1, 0.2, 0.1, 0.05, 0.1, 0.3, 0.6, 0.8, 0.7, 0.5, 0.2, 0.05, 0.0, 0.0, 0.05, 0.1, 0.2, 0.3, 0.4, 0.5, 0.6, 0.8, 0.95, 1.0];
var d13c_midHi  = [0.4, 0.45, 0.35, 0.3, 0.35, 0.3, 0.3, 0.45, 0.3, 0.25, 0.3, 0.65, 1.2, 1.5, 1.4, 1.0, 0.45, 0.2, 0.15, 0.15, 0.2, 0.3, 0.5, 0.8, 1.1, 1.4, 1.7, 2.2, 2.6, 2.8];
var d13c_midLo  = [0.0, 0.05, -0.05, -0.1, -0.05, -0.1, -0.1, -0.05, -0.1, -0.15, -0.1, 0.05, 0.15, 0.25, 0.2, 0.1, 0.0, -0.1, -0.15, -0.15, -0.1, -0.05, 0.0, 0.05, 0.1, 0.1, 0.15, 0.2, 0.25, 0.25];
var d13c_far    = [0.0, 0.05, 0.1, 0.05, 0.1, 0.15, 0.1, 0.25, 0.35, 0.15, 0.15, 0.3, 0.5, 0.65, 0.55, 0.4, 0.2, 0.05, 0.0, 0.0, 0.05, 0.15, 0.25, 0.5, 0.3, 0.45, 0.55, 0.5, 0.6, 0.55];
var d13c_farHi  = [0.15, 0.2, 0.25, 0.2, 0.3, 0.35, 0.3, 0.55, 0.75, 0.4, 0.4, 0.65, 1.0, 1.3, 1.1, 0.8, 0.45, 0.2, 0.15, 0.15, 0.2, 0.4, 0.6, 1.1, 0.9, 1.2, 1.4, 1.4, 1.6, 1.5];
var d13c_farLo  = [-0.15, -0.1, -0.05, -0.1, -0.05, 0.0, -0.05, 0.05, 0.1, -0.05, -0.05, 0.05, 0.1, 0.15, 0.15, 0.1, 0.0, -0.1, -0.15, -0.15, -0.1, -0.05, 0.0, 0.1, 0.0, 0.1, 0.1, 0.1, 0.15, 0.1];
var d13c_sig = [[0, 1.0, 3.19], [0, 3.49, 100], [1, 1.0, 3.19], [1, 3.49, 100], [2, 5.8, 10.2], [2, 12, 17.1], [2, 25.5, 100]];

// ---- styling
var FONT = '"DejaVu Sans", sans-serif';
var FONT_ROW = '"Liberation Sans", Arial, sans-serif';
var lineColors = ['#0000ff', '#ff0000', '#00e600'];
var bandColors = ['rgba(70,80,240,0.42)', 'rgba(225,50,60,0.38)', 'rgba(60,225,60,0.35)'];
var sigColors = ['#a040f0', '#35a8a8', '#d4782c'];
var lg = Math.log10;

function P(freq, near, nearLo, nearHi, mid, midLo, midHi, far, farLo, farHi, sig, box) {
    box.freq = freq;
    box.curves = [[near, nearLo, nearHi], [mid, midLo, midHi], [far, farLo, farHi]];
    box.sig = sig;
    return box;
}

// grid boxes in pixels; sigY = [purple row, orange row]
var panels = [
    P(freqSEEG, a12u_near, a12u_nearLo, a12u_nearHi, a12u_mid, a12u_midLo, a12u_midHi, a12u_far, a12u_farLo, a12u_farHi, a12u_sig,
      {left: 111, top: 110, width: 280, height: 115, min: -2.2, max: 19, ticks: yTicks15, sigY: [85, 102], yName: true}),
    P(freqSEEG, a12c_near, a12c_nearLo, a12c_nearHi, a12c_mid, a12c_midLo, a12c_midHi, a12c_far, a12c_farLo, a12c_farHi, a12c_sig,
      {left: 442, top: 110, width: 280, height: 115, min: -2.2, max: 19, ticks: yTicks15, sigY: [85, 102]}),
    P(freqSEEG, a13u_near, a13u_nearLo, a13u_nearHi, a13u_mid, a13u_midLo, a13u_midHi, a13u_far, a13u_farLo, a13u_farHi, a13u_sig,
      {left: 111, top: 302, width: 280, height: 113, min: -0.27, max: 3.42, ticks: yTicks3, sigY: [279, 294], yName: true, xName: true}),
    P(freqSEEG, a13c_near, a13c_nearLo, a13c_nearHi, a13c_mid, a13c_midLo, a13c_midHi, a13c_far, a13c_farLo, a13c_farHi, a13c_sig,
      {left: 442, top: 302, width: 280, height: 113, min: -0.27, max: 3.42, ticks: yTicks3, sigY: [279, 294], xName: true}),
    P(freqMEG, b12u_near, b12u_nearLo, b12u_nearHi, b12u_mid, b12u_midLo, b12u_midHi, b12u_far, b12u_farLo, b12u_farHi, b12u_sig,
      {left: 794, top: 112, width: 279, height: 113, min: -2.0, max: 18.6, ticks: yTicks15, sigY: [85, 103]}),
    P(freqMEG, b12c_near, b12c_nearLo, b12c_nearHi, b12c_mid, b12c_midLo, b12c_midHi, b12c_far, b12c_farLo, b12c_farHi, b12c_sig,
      {left: 1124, top: 112, width: 280, height: 113, min: -2.0, max: 18.6, ticks: yTicks15, sigY: [85, 103]}),
    P(freqMEG, b13u_near, b13u_nearLo, b13u_nearHi, b13u_mid, b13u_midLo, b13u_midHi, b13u_far, b13u_farLo, b13u_farHi, b13u_sig,
      {left: 794, top: 302, width: 279, height: 112, min: -0.34, max: 3.48, ticks: yTicks3, sigY: [282, 297], xName: true}),
    P(freqMEG, b13c_near, b13c_nearLo, b13c_nearHi, b13c_mid, b13c_midLo, b13c_midHi, b13c_far, b13c_farLo, b13c_farHi, b13c_sig,
      {left: 1125, top: 302, width: 280, height: 112, min: -0.34, max: 3.48, ticks: yTicks3, sigY: [282, 297], xName: true}),
    P(freqSEEG, c12u_near, c12u_nearLo, c12u_nearHi, c12u_mid, c12u_midLo, c12u_midHi, c12u_far, c12u_farLo, c12u_farHi, c12u_sig,
      {left: 111, top: 568, width: 281, height: 114, min: -3.8, max: 38.5, ticks: yTicks30, sigY: [546, 558], yName: true}),
    P(freqSEEG, c12c_near, c12c_nearLo, c12c_nearHi, c12c_mid, c12c_midLo, c12c_midHi, c12c_far, c12c_farLo, c12c_farHi, c12c_sig,
      {left: 441, top: 568, width: 281, height: 114, min: -3.8, max: 38.5, ticks: yTicks30, sigY: [546, 558]}),
    P(freqSEEG, c13u_near, c13u_nearLo, c13u_nearHi, c13u_mid, c13u_midLo, c13u_midHi, c13u_far, c13u_farLo, c13u_farHi, c13u_sig,
      {left: 111, top: 760, width: 281, height: 112, min: -3.8, max: 39.5, ticks: yTicks30, sigY: [737, 750], yName: true, xName: true}),
    P(freqSEEG, c13c_near, c13c_nearLo, c13c_nearHi, c13c_mid, c13c_midLo, c13c_midHi, c13c_far, c13c_farLo, c13c_farHi, c13c_sig,
      {left: 441, top: 760, width: 281, height: 112, min: -3.8, max: 39.5, ticks: yTicks30, sigY: [737, 750], xName: true}),
    P(freqMEG, d12u_near, d12u_nearLo, d12u_nearHi, d12u_mid, d12u_midLo, d12u_midHi, d12u_far, d12u_farLo, d12u_farHi, d12u_sig,
      {left: 794, top: 575, width: 279, height: 113, min: -1.95, max: 18, ticks: yTicks15, sigY: [546, 558]}),
    P(freqMEG, d12c_near, d12c_nearLo, d12c_nearHi, d12c_mid, d12c_midLo, d12c_midHi, d12c_far, d12c_farLo, d12c_farHi, d12c_sig,
      {left: 1126, top: 575, width: 280, height: 113, min: -1.95, max: 18, ticks: yTicks15, sigY: [546, 558]}),
    P(freqMEG, d13u_near, d13u_nearLo, d13u_nearHi, d13u_mid, d13u_midLo, d13u_midHi, d13u_far, d13u_farLo, d13u_farHi, d13u_sig,
      {left: 794, top: 765, width: 279, height: 112, min: -1.85, max: 15.5, ticks: yTicks15, sigY: [737, 751], xName: true}),
    P(freqMEG, d13c_near, d13c_nearLo, d13c_nearHi, d13c_mid, d13c_midLo, d13c_midHi, d13c_far, d13c_farLo, d13c_farHi, d13c_sig,
      {left: 1126, top: 765, width: 280, height: 112, min: -1.85, max: 15.5, ticks: yTicks15, sigY: [737, 751], xName: true})
];

var n = panels.length;
var grids = [], xAxes = [], yAxes = [], series = [];
var tickLine = {color: '#000', width: 1.5};

panels.forEach(function (p) {
    grids.push({left: p.left, top: p.top, width: p.width, height: p.height});
});
panels.forEach(function (p) {
    grids.push({left: p.left, top: p.sigY[0], width: p.width, height: p.sigY[1] - p.sigY[0]});
});

// x axes: 0..n-1 main (line, labels, short ticks), n..2n-1 long ticks, 2n..3n-1 significance rows
panels.forEach(function (p, i) {
    xAxes.push({
        type: 'value', gridIndex: i, min: 0, max: 2, position: 'bottom',
        name: p.xName ? 'Low frequency [Hz]' : '', nameLocation: 'middle', nameGap: 36,
        nameTextStyle: {fontFamily: FONT, fontSize: 19, color: '#000'},
        axisLine: {onZero: false, lineStyle: {color: '#000', width: 2}},
        axisTick: {inside: true, length: 5, customValues: xMinorTicks.map(lg), lineStyle: tickLine},
        axisLabel: {
            customValues: xLabelFreqs.map(lg), margin: 11,
            fontFamily: FONT, fontSize: 16, color: '#000',
            formatter: function (v) { return String(Math.round(Math.pow(10, v))); }
        },
        splitLine: {show: false}
    });
});
panels.forEach(function (p, i) {
    xAxes.push({
        type: 'value', gridIndex: i, min: 0, max: 2, position: 'bottom',
        axisLine: {show: false, onZero: false},
        axisTick: {inside: true, length: 9, customValues: xMajorTicks.map(lg), lineStyle: tickLine},
        axisLabel: {show: false}, splitLine: {show: false}
    });
});
panels.forEach(function (p, i) {
    xAxes.push({type: 'value', gridIndex: n + i, min: 0, max: 2, show: false});
});

panels.forEach(function (p, i) {
    yAxes.push({
        type: 'value', gridIndex: i, min: p.min, max: p.max,
        name: p.yName ? '{i|K}{n| [%]}' : '', nameLocation: 'middle', nameGap: 30, nameRotate: 90,
        nameTextStyle: {
            fontFamily: FONT, fontSize: 20, color: '#000',
            rich: {
                i: {fontStyle: 'italic', fontSize: 20, fontFamily: FONT, color: '#000'},
                n: {fontSize: 20, fontFamily: FONT, color: '#000'}
            }
        },
        axisLine: {show: true, onZero: false, lineStyle: {color: '#000', width: 2}},
        axisTick: {show: true, inside: true, length: 7, customValues: p.ticks, lineStyle: tickLine},
        axisLabel: {customValues: p.ticks, margin: 6, fontFamily: FONT, fontSize: 16, color: '#000'},
        splitLine: {show: false}
    });
});
panels.forEach(function (p, i) {
    yAxes.push({type: 'value', gridIndex: n + i, min: 0, max: 2, inverse: true, show: false});
});

function bandSeries(i, freq, lo, hi, color) {
    return {
        type: 'custom', xAxisIndex: i, yAxisIndex: i, z: 1, silent: true,
        data: [[0, 0]],
        renderItem: function (params, api) {
            var pts = [], k;
            for (k = 0; k < freq.length; k++) pts.push(api.coord([lg(freq[k]), hi[k]]));
            for (k = freq.length - 1; k >= 0; k--) pts.push(api.coord([lg(freq[k]), lo[k]]));
            return {type: 'polygon', shape: {points: pts}, style: {fill: color}};
        }
    };
}

panels.forEach(function (p, i) {
    p.curves.forEach(function (c, k) {
        series.push(bandSeries(i, p.freq, c[1], c[2], bandColors[k]));
    });
    p.curves.forEach(function (c, k) {
        series.push({
            type: 'line', name: groupNames[k], xAxisIndex: i, yAxisIndex: i, z: 3, silent: true,
            symbol: 'none', lineStyle: {color: lineColors[k], width: 2.5}, itemStyle: {color: lineColors[k]},
            data: p.freq.map(function (f, j) { return [lg(f), c[0][j]]; })
        });
    });
    // significance bars (3 = frequency range) and single-bin asterisks (2 = one frequency)
    [0, 1, 2].forEach(function (lvl) {
        var d = [];
        p.sig.forEach(function (s) {
            if (s[0] === lvl && s.length === 3) d.push([lg(s[1]), lvl], [lg(s[2]), lvl], [lg(s[2]), '-']);
        });
        if (d.length) {
            series.push({
                type: 'line', xAxisIndex: 2 * n + i, yAxisIndex: n + i, silent: true, symbol: 'none',
                connectNulls: false, lineStyle: {color: sigColors[lvl], width: 2}, data: d
            });
        }
    });
    var stars = p.sig.filter(function (s) { return s.length === 2; }).map(function (s) {
        return {value: [lg(s[1]), s[0]], label: {color: sigColors[s[0]]}};
    });
    if (stars.length) {
        series.push({
            type: 'scatter', xAxisIndex: 2 * n + i, yAxisIndex: n + i, silent: true, clip: false,
            symbolSize: 1, itemStyle: {color: 'rgba(0,0,0,0)'},
            label: {show: true, position: 'inside', formatter: '*', fontSize: 12, fontFamily: FONT_ROW, offset: [0, 3]},
            data: stars
        });
    }
});

function txt(x, y, s, size, bold, family) {
    return {type: 'text', x: x, y: y, silent: true,
        style: {text: s, align: 'center', verticalAlign: 'middle', fill: '#000',
            font: (bold ? 'bold ' : '') + size + 'px ' + (family || FONT)}};
}

var chart = echarts.init(document.getElementById('chart'));
chart.setOption({
    animation: false,
    backgroundColor: '#fff',
    grid: grids,
    xAxis: xAxes,
    yAxis: yAxes,
    legend: {
        data: groupNames, orient: 'vertical', left: 591, top: 114,
        icon: 'rect', itemWidth: 24, itemHeight: 4, itemGap: 6, selectedMode: false,
        textStyle: {fontFamily: FONT, fontSize: 17, color: '#000', padding: [0, 0, 0, 2]}
    },
    graphic: [
        txt(18, 27, 'a', 22, true), txt(776, 27, 'b', 22, true),
        txt(18, 520, 'c', 22, true), txt(776, 520, 'd', 22, true),
        txt(424, 23, 'SEEG CFS', 24, true), txt(1101, 23, 'MEG CFS', 24, true),
        txt(423, 519, 'SEEG PAC', 24, true), txt(1105, 519, 'MEG PAC', 24, true),
        txt(254, 51, 'uncorrected', 19), txt(574, 51, 'corrected', 19),
        txt(932, 51, 'uncorrected', 19), txt(1251, 51, 'corrected', 19),
        txt(29, 170, '1:2', 25, false, FONT_ROW), txt(29, 361, '1:3', 25, false, FONT_ROW),
        txt(29, 638, '1:2', 25, false, FONT_ROW), txt(29, 823, '1:3', 25, false, FONT_ROW)
    ],
    series: series
});
</script>
</body>
</html>
